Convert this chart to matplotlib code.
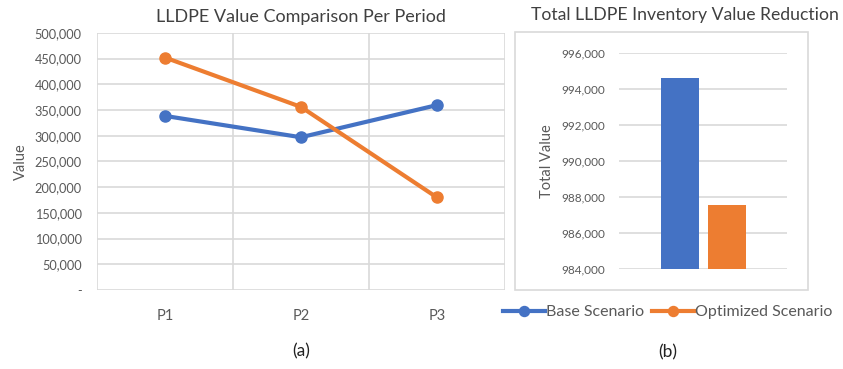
import matplotlib
matplotlib.use("Agg")
import matplotlib.pyplot as plt
from matplotlib.patches import Rectangle
from matplotlib.ticker import FuncFormatter

plt.rcParams['font.family'] = ['Lato', 'DejaVu Sans']

periods = ['P1', 'P2', 'P3']
base_vals = [338500, 297000, 359500]
opt_vals = [452000, 356000, 180000]

scenarios = ['Base Scenario', 'Optimized Scenario']
totals = [994620, 987550]

blue = '#4472C4'
orange = '#ED7D31'
grid_c = '#d9d9d9'
tick_c = '#595959'
title_c = '#404040'

fig = plt.figure(figsize=(8.43, 3.69), dpi=100)

def fmt(v, pos):
    if v == 0:
        return '-'
    return '{:,.0f}'.format(v)

# (a) line chart
ax1 = fig.add_axes([0.115, 0.214, 0.484, 0.697])
ax1.plot(periods, base_vals, color=blue, lw=3, marker='o', ms=8, label=scenarios[0])
ax1.plot(periods, opt_vals, color=orange, lw=3, marker='o', ms=8, label=scenarios[1])
ax1.set_xlim(-0.5, 2.5)
ax1.set_ylim(0, 500000)
ax1.set_yticks(range(0, 500001, 50000))
ax1.yaxis.set_major_formatter(FuncFormatter(fmt))
ax1.set_xticks([-0.5, 0.5, 1.5, 2.5], minor=True)
ax1.grid(True, which='major', axis='y', color=grid_c, lw=1.2)
ax1.grid(True, which='minor', axis='x', color=grid_c, lw=1.2)
ax1.set_axisbelow(True)
for s in ax1.spines.values():
    s.set_visible(False)
ax1.tick_params(which='both', length=0, colors=tick_c)
ax1.tick_params(axis='y', labelsize=9.2, pad=11)
ax1.tick_params(axis='x', labelsize=10.5, pad=14)
ax1.set_ylabel('Value', color=tick_c, fontsize=10.5, labelpad=5)
ax1.set_title('LLDPE Value Comparison Per Period', color=title_c, fontsize=13, pad=8)
fig.text(0.357, 0.048, '(a)', ha='center', va='center', fontsize=12.5, color='#222222')

# (b) bar chart
fig.patches.append(Rectangle((515/843, 1-290/369), 293/843, 258/369, transform=fig.transFigure,
                             fill=False, edgecolor=grid_c, lw=1.2, zorder=0))
ax2 = fig.add_axes([0.734, 0.270, 0.200, 0.587])
ax2.bar([0, 1], totals, width=0.81, color=[blue, orange])
ax2.set_xlim(-1.3, 2.28)
ax2.set_ylim(984000, 996000)
ax2.set_yticks(range(984000, 996001, 2000))
ax2.yaxis.set_major_formatter(FuncFormatter(fmt))
ax2.set_xticks([])
ax2.grid(True, axis='y', color=grid_c, lw=1.2)
ax2.set_axisbelow(True)
for s in ax2.spines.values():
    s.set_visible(False)
ax2.tick_params(length=0, colors=tick_c, labelsize=8.5, pad=10)
ax2.set_ylabel('Total Value', color=tick_c, fontsize=10.5, labelpad=5)
fig.text(685/843, 1-15/369, 'Total LLDPE Inventory Value Reduction', ha='center', va='center',
         fontsize=12.7, color=title_c)
fig.text(668/843, 0.046, '(b)', ha='center', va='center', fontsize=12.5, color='#222222')

leg = fig.legend(handles=ax1.get_lines(), loc='center', bbox_to_anchor=(668/843, 1-312/369),
                 ncol=2, frameon=False, fontsize=11.5, handlelength=2.6, columnspacing=0.5,
                 handletextpad=0.1, markerscale=0.9)
for t in leg.get_texts():
    t.set_color(tick_c)

fig.savefig('out.png', dpi=100)
